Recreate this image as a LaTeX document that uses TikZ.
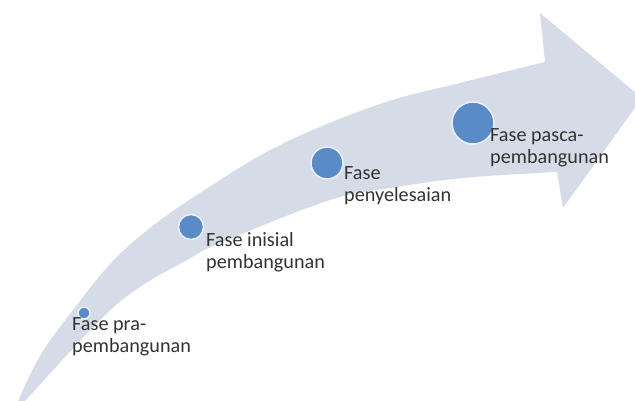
\documentclass[tikz,border=0pt]{standalone}
\usepackage{fontspec}
\setmainfont{Carlito}
\definecolor{bandc}{HTML}{D5DCE8}
\definecolor{dotc}{HTML}{5B8BC7}
\definecolor{dotedge}{HTML}{EAF1FA}
\definecolor{txtc}{HTML}{333333}
\tikzset{
  dot/.style={circle, fill=dotc, draw=dotedge, line width=1.5pt, inner sep=0pt},
  lbl/.style={anchor=base west, align=left, inner sep=0pt, text=txtc,
    font=\fontsize{20.2}{22}\selectfont}
}
\begin{document}
\begin{tikzpicture}[x=1pt,y=-1pt]
\useasboundingbox (0,0) rectangle (635,401);
\clip (0,0) rectangle (635,401);
\fill[white] (0,0) rectangle (635,401);
% arrow band
\fill[bandc] plot[smooth, tension=0.6] coordinates {(12,415) (40,356) (77,305) (112,262) (150,228) (200,193) (280,145) (380,104) (460,83) (545,62)}
  -- (540,13) -- (642,98) -- (563,208) -- (557,172)
  -- plot[smooth, tension=0.6] coordinates {(557,172) (537,173) (463,178) (397,187) (330,200) (220,243) (187,260) (140,287) (100,320) (25,401) (12,415)} -- cycle;
% dots
\node[dot, minimum size=12pt] (c1) at (84,313) {};
\node[dot, minimum size=25pt] (c2) at (191,227) {};
\node[dot, minimum size=32pt] (c3) at (327,163) {};
\node[dot, minimum size=42pt] (c4) at (473,123) {};
% labels (base = baseline of last line)
\node[lbl] (t1) at (72,352) {Fase pra-\\pembangunan};
\node[lbl] (t2) at (206,268) {Fase inisial\\pembangunan};
\node[lbl] (t3) at (344,202) {Fase\\penyelesaian};
\node[lbl] (t4) at (490,164) {Fase pasca-\\pembangunan};
\end{tikzpicture}
\end{document}
